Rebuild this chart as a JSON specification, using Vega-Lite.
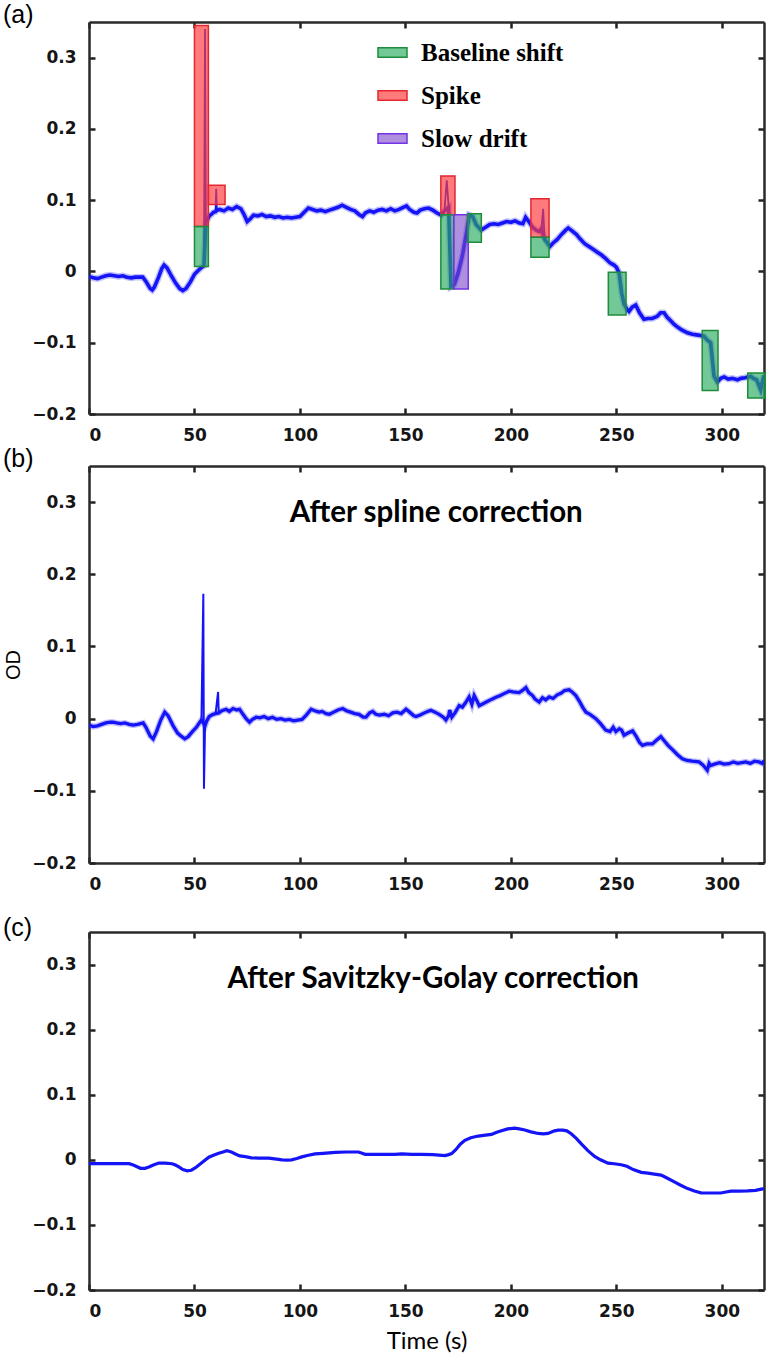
{
  "$schema": "https://vega.github.io/schema/vega-lite/v6.json",
  "padding": {"left": 3, "top": 2, "right": 3, "bottom": 3},
  "spacing": 3,
  "config": {
    "view": {"stroke": null},
    "axis": {
      "labelFont": "DejaVu Sans", "labelFontSize": 17, "labelFontWeight": "bold", "labelColor": "#151515",
      "domainColor": "#2a2a2a", "domainWidth": 2.5, "tickColor": "#222222", "tickWidth": 2.5, "tickSize": -6,
      "labelPadding": 19, "grid": false
    },
    "legend": {
      "orient": "none", "legendX": 288, "legendY": 15, "padding": 0,
      "symbolType": "M-1,-0.33H1V0.33H-1Z", "symbolSize": 841, "symbolStrokeWidth": 1.5,
      "labelFont": "Liberation Serif", "labelFontSize": 25, "labelFontWeight": "bold", "labelColor": "#000",
      "labelOffset": 13, "rowPadding": 14
    }
  },
  "datasets": {
    "lineA": [
      {"t":0,"od":-0.007},{"t":2,"od":-0.009},{"t":4,"od":-0.010},{"t":6,"od":-0.008},{"t":8,"od":-0.006},{"t":10,"od":-0.005},{"t":12,"od":-0.006},{"t":14,"od":-0.007},{"t":16,"od":-0.006},{"t":18,"od":-0.008},{"t":20,"od":-0.009},{"t":22,"od":-0.008},{"t":24,"od":-0.008},{"t":25.5,"od":-0.008},{"t":27,"od":-0.014},{"t":29,"od":-0.024},{"t":30,"od":-0.026},{"t":31,"od":-0.022},{"t":33,"od":-0.008},{"t":34.5,"od":0.004},{"t":35.6,"od":0.009},{"t":37,"od":0.005},{"t":39,"od":-0.006},{"t":41,"od":-0.016},{"t":43,"od":-0.024},{"t":44.5,"od":-0.027},{"t":46,"od":-0.024},{"t":48,"od":-0.015},{"t":50,"od":-0.004},{"t":52,"od":0.002},{"t":53.5,"od":0.006},{"t":54.5,"od":0.008},{"t":55.4,"od":0.07},{"t":56,"od":0.072},{"t":57,"od":0.078},{"t":58,"od":0.080},{"t":59,"od":0.083},{"t":60,"od":0.084},{"t":60.6,"od":0.086},{"t":62,"od":0.087},{"t":64,"od":0.085},{"t":66,"od":0.089},{"t":68,"od":0.087},{"t":70,"od":0.091},{"t":72,"od":0.088},{"t":73.5,"od":0.080},{"t":75,"od":0.070},{"t":76.5,"od":0.074},{"t":78,"od":0.079},{"t":80,"od":0.078},{"t":82,"od":0.080},{"t":84,"od":0.077},{"t":86,"od":0.078},{"t":88,"od":0.076},{"t":90,"od":0.077},{"t":92,"od":0.075},{"t":94,"od":0.076},{"t":96,"od":0.075},{"t":98,"od":0.076},{"t":100,"od":0.077},{"t":102,"od":0.083},{"t":104,"od":0.089},{"t":106,"od":0.087},{"t":108,"od":0.085},{"t":110,"od":0.086},{"t":112,"od":0.084},{"t":114,"od":0.086},{"t":116,"od":0.088},{"t":118,"od":0.090},{"t":120,"od":0.093},{"t":122,"od":0.090},{"t":124,"od":0.087},{"t":126,"od":0.085},{"t":128,"od":0.080},{"t":129.7,"od":0.077},{"t":131,"od":0.082},{"t":133,"od":0.085},{"t":135,"od":0.083},{"t":137,"od":0.086},{"t":139,"od":0.087},{"t":141,"od":0.085},{"t":143,"od":0.088},{"t":145,"od":0.085},{"t":147,"od":0.087},{"t":149,"od":0.090},{"t":150.5,"od":0.092},{"t":152,"od":0.087},{"t":154,"od":0.083},{"t":155.5,"od":0.082},{"t":157,"od":0.086},{"t":159,"od":0.088},{"t":161,"od":0.089},{"t":163,"od":0.086},{"t":165,"od":0.082},{"t":167,"od":0.079},{"t":168.5,"od":0.085},{"t":170.5,"od":0.090},{"t":171.6,"od":-0.021},{"t":173.2,"od":-0.018},{"t":175,"od":-0.002},{"t":177,"od":0.022},{"t":179,"od":0.055},{"t":180.3,"od":0.079},{"t":181.9,"od":0.077},{"t":183.5,"od":0.066},{"t":185.9,"od":0.058},{"t":188,"od":0.062},{"t":190,"od":0.066},{"t":192,"od":0.067},{"t":194,"od":0.066},{"t":196,"od":0.068},{"t":198,"od":0.070},{"t":200,"od":0.069},{"t":202,"od":0.071},{"t":204,"od":0.068},{"t":205.7,"od":0.067},{"t":207,"od":0.076},{"t":208.5,"od":0.070},{"t":210.3,"od":0.062},{"t":212,"od":0.058},{"t":213.5,"od":0.056},{"t":214.5,"od":0.060},{"t":216,"od":0.045},{"t":217,"od":0.041},{"t":218.5,"od":0.035},{"t":220,"od":0.040},{"t":222,"od":0.045},{"t":224,"od":0.052},{"t":226,"od":0.058},{"t":227.2,"od":0.061},{"t":229,"od":0.057},{"t":231,"od":0.052},{"t":233,"od":0.045},{"t":235,"od":0.039},{"t":237,"od":0.035},{"t":239,"od":0.031},{"t":241,"od":0.027},{"t":243,"od":0.023},{"t":245,"od":0.018},{"t":247,"od":0.012},{"t":248.9,"od":0.009},{"t":250,"od":0.006},{"t":251.3,"od":-0.002},{"t":252.5,"od":-0.030},{"t":253.6,"od":-0.045},{"t":255,"od":-0.053},{"t":256,"od":-0.056},{"t":257.5,"od":-0.050},{"t":259.2,"od":-0.047},{"t":261,"od":-0.058},{"t":263.1,"od":-0.067},{"t":265,"od":-0.066},{"t":267,"od":-0.066},{"t":269.4,"od":-0.063},{"t":271,"od":-0.058},{"t":272.6,"od":-0.058},{"t":274,"od":-0.064},{"t":276,"od":-0.070},{"t":277.3,"od":-0.074},{"t":279,"od":-0.078},{"t":281,"od":-0.082},{"t":283.7,"od":-0.086},{"t":286,"od":-0.088},{"t":288,"od":-0.089},{"t":290,"od":-0.090},{"t":291.6,"od":-0.091},{"t":293,"od":-0.096},{"t":294.7,"od":-0.100},{"t":296.3,"od":-0.147},{"t":297.9,"od":-0.155},{"t":299.5,"od":-0.150},{"t":301.1,"od":-0.148},{"t":303,"od":-0.151},{"t":305,"od":-0.150},{"t":307.4,"od":-0.152},{"t":309,"od":-0.150},{"t":311,"od":-0.149},{"t":313.7,"od":-0.147},{"t":315,"od":-0.150},{"t":316.5,"od":-0.152},{"t":318.4,"od":-0.166},{"t":319.2,"od":-0.155},{"t":320,"od":-0.146}
    ],
    "spikesA": [
      {"t":54.5,"od":0.008,"id":1},{"t":55,"od":0.34,"id":1},{"t":55.4,"od":0.07,"id":1},
      {"t":60,"od":0.084,"id":2},{"t":60.3,"od":0.116,"id":2},{"t":60.6,"od":0.086,"id":2},
      {"t":168.5,"od":0.085,"id":3},{"t":169.6,"od":0.128,"id":3},{"t":170.5,"od":0.090,"id":3},
      {"t":214.5,"od":0.060,"id":4},{"t":215.3,"od":0.088,"id":4},{"t":216,"od":0.045,"id":4}
    ],
    "boxes": [
      {"t1":50.0,"t2":56.6,"y1":0.063,"y2":0.345,"type":"Spike"},
      {"t1":50.0,"t2":56.6,"y1":0.007,"y2":0.063,"type":"Baseline shift"},
      {"t1":56.6,"t2":64.5,"y1":0.094,"y2":0.121,"type":"Spike"},
      {"t1":166.8,"t2":173.5,"y1":0.0795,"y2":0.134,"type":"Spike"},
      {"t1":166.8,"t2":172.9,"y1":-0.0247,"y2":0.0795,"type":"Baseline shift"},
      {"t1":172.9,"t2":179.8,"y1":-0.0247,"y2":0.0795,"type":"Slow drift"},
      {"t1":179.5,"t2":186.0,"y1":0.041,"y2":0.081,"type":"Baseline shift"},
      {"t1":209.5,"t2":218.1,"y1":0.048,"y2":0.102,"type":"Spike"},
      {"t1":209.5,"t2":218.1,"y1":0.020,"y2":0.048,"type":"Baseline shift"},
      {"t1":246.2,"t2":254.6,"y1":-0.061,"y2":-0.001,"type":"Baseline shift"},
      {"t1":290.7,"t2":298.2,"y1":-0.167,"y2":-0.083,"type":"Baseline shift"},
      {"t1":312.3,"t2":320.6,"y1":-0.1776,"y2":-0.1425,"type":"Baseline shift"}
    ],
    "lineB": [
      {"t":0,"od":-0.009},{"t":2,"od":-0.011},{"t":4,"od":-0.010},{"t":6,"od":-0.008},{"t":8,"od":-0.006},{"t":10,"od":-0.005},{"t":11.5,"od":-0.005},{"t":13,"od":-0.006},{"t":15,"od":-0.007},{"t":17,"od":-0.006},{"t":19,"od":-0.008},{"t":21,"od":-0.009},{"t":23,"od":-0.008},{"t":25.7,"od":-0.006},{"t":27,"od":-0.012},{"t":29,"od":-0.024},{"t":30.4,"od":-0.028},{"t":32,"od":-0.018},{"t":34,"od":-0.002},{"t":35.9,"od":0.009},{"t":37.5,"od":0.004},{"t":39.9,"od":-0.010},{"t":42,"od":-0.020},{"t":44,"od":-0.025},{"t":45.4,"od":-0.028},{"t":47,"od":-0.025},{"t":49,"od":-0.018},{"t":50.9,"od":-0.012},{"t":52.5,"od":-0.005},{"t":53.3,"od":-0.002},{"t":55,"od":-0.010},{"t":55.7,"od":-0.004},{"t":57,"od":0.003},{"t":58.8,"od":0.006},{"t":60,"od":0.007},{"t":61.5,"od":0.008},{"t":63,"od":0.011},{"t":65,"od":0.013},{"t":66.5,"od":0.010},{"t":68.3,"od":0.014},{"t":70,"od":0.012},{"t":71.4,"od":0.013},{"t":73,"od":0.006},{"t":74.5,"od":0.000},{"t":76.1,"od":-0.005},{"t":77.5,"od":-0.001},{"t":79.3,"od":0.002},{"t":81,"od":0.001},{"t":83,"od":0.003},{"t":85,"od":0.000},{"t":87,"od":0.002},{"t":89,"od":-0.001},{"t":91,"od":0.000},{"t":93,"od":-0.002},{"t":95,"od":-0.001},{"t":97,"od":-0.003},{"t":99,"od":-0.002},{"t":101,"od":-0.001},{"t":103,"od":0.005},{"t":105.3,"od":0.013},{"t":107,"od":0.011},{"t":109,"od":0.009},{"t":110.5,"od":0.010},{"t":112.4,"od":0.007},{"t":114,"od":0.006},{"t":116,"od":0.009},{"t":118,"od":0.012},{"t":120.3,"od":0.014},{"t":122,"od":0.011},{"t":124,"od":0.009},{"t":126,"od":0.007},{"t":128,"od":0.006},{"t":130,"od":0.002},{"t":131.3,"od":0.002},{"t":133,"od":0.008},{"t":134.5,"od":0.010},{"t":136,"od":0.006},{"t":137.7,"od":0.005},{"t":140,"od":0.006},{"t":142,"od":0.004},{"t":144,"od":0.008},{"t":146,"od":0.009},{"t":148,"od":0.007},{"t":150.3,"od":0.013},{"t":152,"od":0.009},{"t":154,"od":0.004},{"t":155,"od":0.003},{"t":157,"od":0.005},{"t":159,"od":0.008},{"t":160.5,"od":0.010},{"t":162.1,"od":0.0115},{"t":164,"od":0.009},{"t":166,"od":0.006},{"t":168,"od":0.002},{"t":169.2,"od":-0.002},{"t":170.5,"od":0.004},{"t":171,"od":0.012},{"t":172,"od":0.002},{"t":173.5,"od":0.008},{"t":175.5,"od":0.018},{"t":177,"od":0.016},{"t":178.5,"od":0.022},{"t":180.2,"od":0.030},{"t":181.5,"od":0.020},{"t":182.6,"od":0.032},{"t":184,"od":0.024},{"t":185,"od":0.018},{"t":187,"od":0.021},{"t":189,"od":0.024},{"t":191,"od":0.027},{"t":192.9,"od":0.0296},{"t":195,"od":0.032},{"t":197,"od":0.035},{"t":199.2,"od":0.038},{"t":201,"od":0.037},{"t":203.9,"od":0.036},{"t":205.5,"od":0.039},{"t":207.1,"od":0.043},{"t":208.5,"od":0.036},{"t":210.3,"od":0.032},{"t":211.5,"od":0.027},{"t":213.4,"od":0.023},{"t":215,"od":0.029},{"t":216.5,"od":0.026},{"t":218.2,"od":0.030},{"t":220,"od":0.028},{"t":222,"od":0.033},{"t":223.7,"od":0.035},{"t":225.5,"od":0.039},{"t":227.6,"od":0.040},{"t":229,"od":0.037},{"t":230.8,"od":0.032},{"t":232.5,"od":0.024},{"t":234,"od":0.016},{"t":235.6,"od":0.009},{"t":237.5,"od":0.006},{"t":240.3,"od":0.000},{"t":242.5,"od":-0.007},{"t":245,"od":-0.016},{"t":247,"od":-0.018},{"t":248.5,"od":-0.012},{"t":249.8,"od":-0.018},{"t":251.4,"od":-0.014},{"t":252.5,"od":-0.016},{"t":253.7,"od":-0.023},{"t":255.5,"od":-0.020},{"t":257.7,"od":-0.017},{"t":259.5,"od":-0.025},{"t":261,"od":-0.033},{"t":262.4,"od":-0.037},{"t":264.5,"od":-0.035},{"t":267.1,"od":-0.035},{"t":269,"od":-0.030},{"t":271.1,"od":-0.025},{"t":272.5,"od":-0.030},{"t":274.5,"od":-0.037},{"t":276.6,"od":-0.043},{"t":279,"od":-0.050},{"t":281.3,"od":-0.0555},{"t":283.5,"od":-0.058},{"t":286,"od":-0.059},{"t":289.2,"od":-0.060},{"t":291,"od":-0.064},{"t":293.1,"od":-0.0716},{"t":294,"od":-0.062},{"t":294.7,"od":-0.065},{"t":296.5,"od":-0.063},{"t":299,"od":-0.061},{"t":301,"od":-0.063},{"t":303.4,"od":-0.0624},{"t":305.5,"od":-0.060},{"t":307.5,"od":-0.062},{"t":309.5,"od":-0.061},{"t":311.3,"od":-0.060},{"t":313.5,"od":-0.062},{"t":315.5,"od":-0.059},{"t":317.6,"od":-0.060},{"t":319.2,"od":-0.062},{"t":320,"od":-0.058}
    ],
    "spikesB": [
      {"t":53.3,"od":-0.002,"id":1},{"t":54.2,"od":0.173,"id":1},{"t":54.5,"od":-0.097,"id":1},{"t":55,"od":-0.010,"id":1},
      {"t":60,"od":0.007,"id":2},{"t":61.2,"od":0.037,"id":2},{"t":61.5,"od":0.008,"id":2}
    ],
    "lineC": [
      {"t":0,"od":-0.006},{"t":5,"od":-0.006},{"t":10,"od":-0.006},{"t":15,"od":-0.006},{"t":19,"od":-0.006},{"t":21,"od":-0.008},{"t":24.4,"od":-0.013},{"t":26.5,"od":-0.013},{"t":28.4,"od":-0.011},{"t":30.5,"od":-0.008},{"t":33.1,"od":-0.005},{"t":36,"od":-0.005},{"t":39.4,"od":-0.006},{"t":41,"od":-0.008},{"t":42.6,"od":-0.011},{"t":44.5,"od":-0.015},{"t":46.5,"od":-0.017},{"t":48.5,"od":-0.016},{"t":50.5,"od":-0.012},{"t":53.6,"od":-0.004},{"t":56.8,"od":0.004},{"t":59,"od":0.007},{"t":61.5,"od":0.010},{"t":63.5,"od":0.012},{"t":65.4,"od":0.014},{"t":67.5,"od":0.012},{"t":69.4,"od":0.009},{"t":71.5,"od":0.006},{"t":74.1,"od":0.005},{"t":77,"od":0.003},{"t":80.4,"od":0.0027},{"t":85.2,"od":0.0027},{"t":89,"od":0.001},{"t":91.5,"od":0.000},{"t":93.8,"od":-0.0005},{"t":96,"od":0.000},{"t":98.5,"od":0.002},{"t":100.9,"od":0.0045},{"t":104,"od":0.007},{"t":107.2,"od":0.009},{"t":111,"od":0.010},{"t":116.7,"od":0.0115},{"t":122,"od":0.012},{"t":127.7,"od":0.012},{"t":129.5,"od":0.010},{"t":130.9,"od":0.0085},{"t":135,"od":0.0085},{"t":140.4,"od":0.0085},{"t":145,"od":0.0085},{"t":148.3,"od":0.009},{"t":153,"od":0.0085},{"t":157.7,"od":0.0085},{"t":163,"od":0.008},{"t":168.8,"od":0.0066},{"t":170.5,"od":0.008},{"t":171.9,"od":0.0095},{"t":174,"od":0.016},{"t":176,"od":0.024},{"t":178.2,"od":0.030},{"t":181,"od":0.034},{"t":184.5,"od":0.0365},{"t":188,"od":0.038},{"t":190.8,"od":0.039},{"t":193,"od":0.042},{"t":195.5,"od":0.0447},{"t":198.5,"od":0.0475},{"t":201.8,"od":0.0488},{"t":204,"od":0.0475},{"t":206.6,"od":0.0458},{"t":209.5,"od":0.043},{"t":212.9,"od":0.0405},{"t":215.5,"od":0.040},{"t":217.6,"od":0.0405},{"t":220.7,"od":0.0445},{"t":222.5,"od":0.0455},{"t":224.7,"od":0.0457},{"t":226.5,"od":0.0445},{"t":228.6,"od":0.040},{"t":231,"od":0.033},{"t":233.4,"od":0.0244},{"t":236.5,"od":0.014},{"t":239.7,"od":0.0051},{"t":242.5,"od":0.000},{"t":246,"od":-0.0051},{"t":249,"od":-0.006},{"t":252.3,"od":-0.0076},{"t":255,"od":-0.010},{"t":258,"od":-0.015},{"t":261.8,"od":-0.0193},{"t":265,"od":-0.0205},{"t":268,"od":-0.022},{"t":271.2,"od":-0.0234},{"t":274,"od":-0.028},{"t":277.5,"od":-0.034},{"t":280.5,"od":-0.039},{"t":283.8,"od":-0.0442},{"t":287,"od":-0.048},{"t":290.1,"od":-0.0508},{"t":293,"od":-0.051},{"t":296,"od":-0.051},{"t":299.5,"od":-0.051},{"t":302,"od":-0.0495},{"t":304.3,"od":-0.048},{"t":308,"od":-0.048},{"t":312.2,"od":-0.0478},{"t":316,"od":-0.047},{"t":319.3,"od":-0.0447},{"t":320,"od":-0.044}
    ]
  },
  "vconcat": [
    {
      "width": 675, "height": 392,
      "title": {"text": "(a)", "anchor": "start", "frame": "group", "dx": -86, "offset": -7, "font": "Liberation Sans", "fontSize": 25, "fontWeight": "normal", "color": "#000"},
      "layer": [
        {
          "data": {"name": "lineA"},
          "mark": {"type": "line", "color": "#2a2aff", "strokeWidth": 6.5, "opacity": 0.3, "clip": true},
          "encoding": {
            "x": {"field": "t", "type": "quantitative", "scale": {"domain": [0, 320], "nice": false, "zero": false},
                  "axis": {"orient": "bottom", "values": [0, 50, 100, 150, 200, 250, 300], "title": null}},
            "y": {"field": "od", "type": "quantitative", "scale": {"domain": [-0.2, 0.35], "nice": false, "zero": false},
                  "axis": {"orient": "left", "values": [-0.2, -0.1, 0, 0.1, 0.2, 0.3], "format": "~g", "title": null}}
          }
        },
        {
          "data": {"name": "lineA"},
          "mark": {"type": "line", "color": "#1414f6", "strokeWidth": 3.6, "clip": true},
          "encoding": {
            "x": {"field": "t", "type": "quantitative", "axis": null},
            "y": {"field": "od", "type": "quantitative", "axis": null}
          }
        },
        {
          "data": {"name": "spikesA"},
          "mark": {"type": "line", "color": "#1414f6", "strokeWidth": 1.8, "clip": true},
          "encoding": {
            "x": {"field": "t", "type": "quantitative", "axis": null},
            "y": {"field": "od", "type": "quantitative", "axis": null},
            "detail": {"field": "id", "type": "nominal"}
          }
        },
        {
          "data": {"name": "boxes"},
          "mark": {"type": "rect", "strokeWidth": 1.5},
          "encoding": {
            "x": {"field": "t1", "type": "quantitative", "scale": {"domain": [0, 320], "nice": false, "zero": false},
                  "axis": {"orient": "top", "values": [0, 50, 100, 150, 200, 250, 300], "labels": false, "title": null}},
            "x2": {"field": "t2"},
            "y": {"field": "y1", "type": "quantitative", "scale": {"domain": [-0.2, 0.35], "nice": false, "zero": false},
                  "axis": {"orient": "right", "values": [-0.2, -0.1, 0, 0.1, 0.2, 0.3], "labels": false, "title": null}},
            "y2": {"field": "y2"},
            "fill": {"field": "type", "type": "nominal",
                     "scale": {"domain": ["Baseline shift", "Spike", "Slow drift"], "range": ["rgba(40,170,95,0.65)", "rgba(255,60,60,0.68)", "rgba(120,70,200,0.6)"]},
                     "legend": {"title": null}},
            "stroke": {"field": "type", "type": "nominal",
                       "scale": {"domain": ["Baseline shift", "Spike", "Slow drift"], "range": ["#1e8c3a", "#e32630", "#7433e6"]},
                       "legend": {"title": null}}
          }
        }
      ],
      "resolve": {"axis": {"x": "independent", "y": "independent"}}
    },
    {
      "width": 675, "height": 397,
      "title": {"text": "(b)", "anchor": "start", "frame": "group", "dx": -86, "offset": -7, "font": "Liberation Sans", "fontSize": 25, "fontWeight": "normal", "color": "#000"},
      "layer": [
        {
          "data": {"name": "lineB"},
          "mark": {"type": "line", "color": "#2a2aff", "strokeWidth": 6, "opacity": 0.3, "clip": true},
          "encoding": {
            "x": {"field": "t", "type": "quantitative", "scale": {"domain": [0, 320], "nice": false, "zero": false},
                  "axis": {"orient": "bottom", "values": [0, 50, 100, 150, 200, 250, 300], "title": " ", "titleFontSize": 12, "titlePadding": 9}},
            "y": {"field": "od", "type": "quantitative", "scale": {"domain": [-0.2, 0.35], "nice": false, "zero": false},
                  "axis": {"orient": "left", "values": [-0.2, -0.1, 0, 0.1, 0.2, 0.3], "format": "~g", "title": "OD",
                           "titleFont": "Liberation Sans", "titleFontSize": 20, "titleFontWeight": "normal", "titleColor": "#000", "titlePadding": 8}}
          }
        },
        {
          "data": {"name": "lineB"},
          "mark": {"type": "line", "color": "#1414f6", "strokeWidth": 3.3, "clip": true},
          "encoding": {
            "x": {"field": "t", "type": "quantitative", "axis": null},
            "y": {"field": "od", "type": "quantitative", "axis": null}
          }
        },
        {
          "data": {"name": "spikesB"},
          "mark": {"type": "line", "color": "#1414f6", "strokeWidth": 2, "clip": true},
          "encoding": {
            "x": {"field": "t", "type": "quantitative", "axis": null},
            "y": {"field": "od", "type": "quantitative", "axis": null},
            "detail": {"field": "id", "type": "nominal"}
          }
        },
        {
          "data": {"values": [{}]},
          "mark": {"type": "text", "text": "After spline correction", "font": "Lato", "fontSize": 29.5, "fontWeight": "bold", "align": "center", "baseline": "alphabetic", "color": "#000"},
          "encoding": {
            "x": {"datum": 164.6, "type": "quantitative", "scale": {"domain": [0, 320], "nice": false, "zero": false},
                  "axis": {"orient": "top", "values": [0, 50, 100, 150, 200, 250, 300], "labels": false, "title": null}},
            "y": {"datum": 0.2724, "type": "quantitative", "scale": {"domain": [-0.2, 0.35], "nice": false, "zero": false},
                  "axis": {"orient": "right", "values": [-0.2, -0.1, 0, 0.1, 0.2, 0.3], "labels": false, "title": null}}
          }
        }
      ],
      "resolve": {"axis": {"x": "independent", "y": "independent"}}
    },
    {
      "width": 675, "height": 358,
      "title": {"text": "(c)", "anchor": "start", "frame": "group", "dx": -86, "offset": -10, "font": "Liberation Sans", "fontSize": 25, "fontWeight": "normal", "color": "#000"},
      "layer": [
        {
          "data": {"name": "lineC"},
          "mark": {"type": "line", "color": "#1414f6", "strokeWidth": 3.2, "clip": true},
          "encoding": {
            "x": {"field": "t", "type": "quantitative", "scale": {"domain": [0, 320], "nice": false, "zero": false},
                  "axis": {"orient": "bottom", "values": [0, 50, 100, 150, 200, 250, 300], "title": "Time (s)",
                           "titleFont": "Lato", "titleFontSize": 24, "titleFontWeight": "normal", "titleColor": "#000", "titlePadding": 10}},
            "y": {"field": "od", "type": "quantitative", "scale": {"domain": [-0.2, 0.35], "nice": false, "zero": false},
                  "axis": {"orient": "left", "values": [-0.2, -0.1, 0, 0.1, 0.2, 0.3], "format": "~g", "title": null}}
          }
        },
        {
          "data": {"values": [{}]},
          "mark": {"type": "text", "text": "After Savitzky-Golay correction", "font": "Lato", "fontSize": 29.5, "fontWeight": "bold", "align": "center", "baseline": "alphabetic", "color": "#000"},
          "encoding": {
            "x": {"datum": 163.2, "type": "quantitative", "scale": {"domain": [0, 320], "nice": false, "zero": false},
                  "axis": {"orient": "top", "values": [0, 50, 100, 150, 200, 250, 300], "labels": false, "title": null}},
            "y": {"datum": 0.2637, "type": "quantitative", "scale": {"domain": [-0.2, 0.35], "nice": false, "zero": false},
                  "axis": {"orient": "right", "values": [-0.2, -0.1, 0, 0.1, 0.2, 0.3], "labels": false, "title": null}}
          }
        }
      ],
      "resolve": {"axis": {"x": "independent", "y": "independent"}}
    }
  ]
}
